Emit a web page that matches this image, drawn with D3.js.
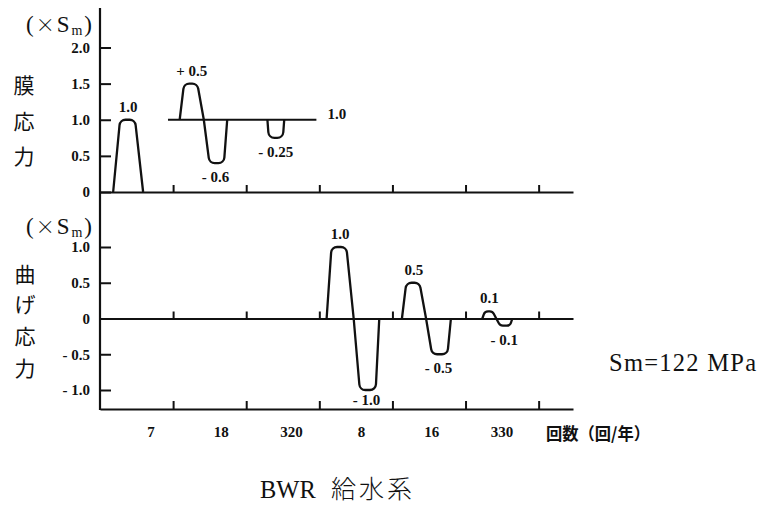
<!DOCTYPE html>
<html>
<head>
<meta charset="utf-8">
<script src="https://cdn.jsdelivr.net/npm/d3@7"></script>
<style>
  body { margin: 0; background: #fff; }
  svg { display: block; }
  .num { font-family: "Liberation Serif", "DejaVu Serif", serif; font-weight: bold; font-size: 15px; fill: #111; }
  .cjk { font-family: "Noto Sans CJK JP", sans-serif; fill: #111; }
</style>
</head>
<body>
<svg id="chart" width="763" height="506"></svg>
<script>
// categories along the x axis (cycles per year)
var categories = ["7", "18", "320", "8", "16", "330"];
var xUnit = "回数（回/年）";

var membraneTicks = [0, 0.5, 1.0, 1.5, 2.0];
var bendingTicks = [-1.0, -0.5, 0, 0.5, 1.0];

// each lobe: start/end on the slot axis, baseline value, amplitude, label
var membraneLobes = [
  {x0: 0.18, x1: 0.59, base: 0,   amp: 1.0,   label: "1.0"},
  {x0: 1.09, x1: 1.42, base: 1.0, amp: 0.5,   label: "+ 0.5"},
  {x0: 1.42, x1: 1.74, base: 1.0, amp: -0.6,  label: "- 0.6"},
  {x0: 2.29, x1: 2.52, base: 1.0, amp: -0.25, label: "- 0.25"}
];
var membraneBaseline = {x0: 0.93, x1: 2.96, value: 1.0, label: "1.0"};

var bendingLobes = [
  {x0: 3.10, x1: 3.47, base: 0, amp: 1.0,  label: "1.0"},
  {x0: 3.47, x1: 3.82, base: 0, amp: -1.0, label: "- 1.0"},
  {x0: 4.13, x1: 4.46, base: 0, amp: 0.5,  label: "0.5"},
  {x0: 4.46, x1: 4.80, base: 0, amp: -0.5, label: "- 0.5"},
  {x0: 5.23, x1: 5.42, base: 0, amp: 0.1,  label: "0.1"},
  {x0: 5.42, x1: 5.64, base: 0, amp: -0.1, label: "- 0.1"}
];

var svg = d3.select("#chart");
svg.append("rect").attr("width", 763).attr("height", 506).attr("fill", "#fff");

var axisX = 100;
var axisTop = 8;
var bottomY = 409;

var x = d3.scaleLinear().domain([0, 6.47]).range([axisX, 573]);
var yTop = d3.scaleLinear().domain([0, 2]).range([192, 47.5]);
var yBot = d3.scaleLinear().domain([-1, 1]).range([390, 247]);
var xLabel = d3.scalePoint().domain(categories).range([151, 502]);

function fmt(v) {
  if (v === 0) return "0";
  var s = d3.format(".1f")(Math.abs(v));
  return v < 0 ? "- " + s : s;
}

function styleAxis(g) {
  g.selectAll("line").attr("stroke", "#111").attr("stroke-width", 2);
  g.selectAll("path").attr("stroke", "#111").attr("stroke-width", 2);
  g.selectAll("text").attr("class", "num").attr("font-size", 14.5);
}

// y axes (ticks pointing inward)
svg.append("g")
  .attr("transform", "translate(" + axisX + ",0)")
  .call(d3.axisLeft(yTop).tickValues(membraneTicks).tickFormat(fmt).tickSizeInner(-11).tickSizeOuter(0).tickPadding(10))
  .call(function(g){ g.select(".domain").remove(); })
  .call(styleAxis);

svg.append("g")
  .attr("transform", "translate(" + axisX + ",0)")
  .call(d3.axisLeft(yBot).tickValues(bendingTicks).tickFormat(fmt).tickSizeInner(-11).tickSizeOuter(0).tickPadding(10))
  .call(function(g){ g.select(".domain").remove(); })
  .call(styleAxis);

// horizontal axes with upward ticks at slot boundaries
var slotTicks = [1, 2, 3, 4, 5, 6];
function hAxis(y, size) {
  svg.append("g")
    .attr("transform", "translate(0," + y + ")")
    .call(d3.axisBottom(x).tickValues(slotTicks).tickFormat("").tickSizeInner(-size).tickSizeOuter(0))
    .call(styleAxis);
}
hAxis(yTop(0), 7);
hAxis(yBot(0), 7);
hAxis(bottomY, 8);

svg.append("line")
  .attr("x1", axisX).attr("x2", axisX)
  .attr("y1", axisTop).attr("y2", bottomY + 1)
  .attr("stroke", "#111").attr("stroke-width", 2.2);

// membrane baseline at 1.0
svg.append("line")
  .attr("x1", x(membraneBaseline.x0)).attr("x2", x(membraneBaseline.x1))
  .attr("y1", yTop(membraneBaseline.value)).attr("y2", yTop(membraneBaseline.value))
  .attr("stroke", "#111").attr("stroke-width", 2);
svg.append("text").attr("class", "num")
  .attr("x", x(membraneBaseline.x1) + 11)
  .attr("y", yTop(membraneBaseline.value) - 6)
  .attr("dominant-baseline", "central")
  .text(membraneBaseline.label);

// lobe drawing
function slants(lobes, i) {
  var d = lobes[i];
  var prev = lobes[i - 1], next = lobes[i + 1];
  var joinedNext = next && Math.abs(next.x0 - d.x1) < 1e-6;
  var joinedPrev = prev && Math.abs(prev.x1 - d.x0) < 1e-6;
  if (d.amp > 0 && joinedNext) return [0.18, 0.27];
  if (d.amp < 0 && joinedPrev) return [0.24, 0.14];
  if (d.amp > 0) return [0.23, 0.27];
  return [0.08, 0.08];
}

function drawLobes(lobes, y) {
  lobes.forEach(function(d, i) {
    var s = slants(lobes, i);
    var xa = x(d.x0), xb = x(d.x1), w = xb - xa;
    var yb = y(d.base), yp = y(d.base + d.amp);
    var p1x = xa + s[0] * w, p2x = xb - s[1] * w;
    var r = Math.min(6, Math.abs(yp - yb) / 1.6, (p2x - p1x) / 2 + 2);
    var p = d3.path();
    p.moveTo(xa, yb);
    p.arcTo(p1x, yp, p2x, yp, r);
    p.arcTo(p2x, yp, xb, yb, r);
    p.lineTo(xb, yb);
    svg.append("path")
      .attr("d", p.toString())
      .attr("fill", "none")
      .attr("stroke", "#111")
      .attr("stroke-width", 2.3)
      .attr("stroke-linejoin", "round");

    svg.append("text").attr("class", "num")
      .attr("x", (xa + xb) / 2)
      .attr("y", d.amp > 0 ? yp - 13 : Math.min(yp + 14, bottomY - 9))
      .attr("text-anchor", "middle")
      .attr("dominant-baseline", "central")
      .text(d.label);
  });
}
drawLobes(membraneLobes, yTop);
drawLobes(bendingLobes, yBot);

// category labels
svg.selectAll(".cat")
  .data(categories)
  .enter()
  .append("text")
  .attr("class", "num")
  .attr("x", function(d){ return xLabel(d); })
  .attr("y", 432)
  .attr("text-anchor", "middle")
  .attr("dominant-baseline", "central")
  .text(function(d){ return d; });

svg.append("text").attr("class", "cjk")
  .attr("x", 546).attr("y", 432)
  .attr("dominant-baseline", "central")
  .attr("font-size", 17).attr("font-weight", "bold")
  .attr("textLength", 104).attr("lengthAdjust", "spacingAndGlyphs")
  .text(xUnit);

// unit labels (×Sm)
function unitLabel(yBase) {
  var t = svg.append("text")
    .attr("x", 26).attr("y", yBase)
    .attr("font-family", "'Liberation Serif', serif")
    .attr("font-size", 23).attr("fill", "#111")
    .attr("textLength", 66).attr("lengthAdjust", "spacing");
  t.append("tspan").text("(");
  t.append("tspan").attr("font-family", "'Noto Sans CJK JP', sans-serif").attr("font-weight", 300).attr("font-size", 19).text("×");
  t.append("tspan").text("S");
  t.append("tspan").attr("font-size", 14).attr("dy", 3).text("m");
  t.append("tspan").attr("dy", -3).text(")");
}
unitLabel(32);
unitLabel(234);

// vertical stacked titles
function stacked(chars, cx, ys) {
  chars.forEach(function(c, i) {
    svg.append("text").attr("class", "cjk")
      .attr("x", cx).attr("y", ys[i])
      .attr("text-anchor", "middle")
      .attr("dominant-baseline", "central")
      .attr("font-size", 21)
      .text(c);
  });
}
stacked(["膜", "応", "力"], 24, [84, 120, 155]);
stacked(["曲", "げ", "応", "力"], 25, [273, 303, 335, 367]);

svg.append("text")
  .attr("x", 609).attr("y", 371)
  .attr("font-family", "'Liberation Serif', serif")
  .attr("font-size", 24.5).attr("fill", "#111")
  .attr("textLength", 147).attr("lengthAdjust", "spacing")
  .text("Sm=122 MPa");

svg.append("text")
  .attr("x", 260).attr("y", 498)
  .attr("font-family", "'Liberation Serif', serif")
  .attr("font-size", 24.5).attr("fill", "#111")
  .text("BWR");
svg.append("text").attr("class", "cjk")
  .attr("x", 331).attr("y", 498)
  .attr("font-size", 25).attr("font-weight", 300)
  .attr("textLength", 81).attr("lengthAdjust", "spacing")
  .text("給水系");
</script>
</body>
</html>
